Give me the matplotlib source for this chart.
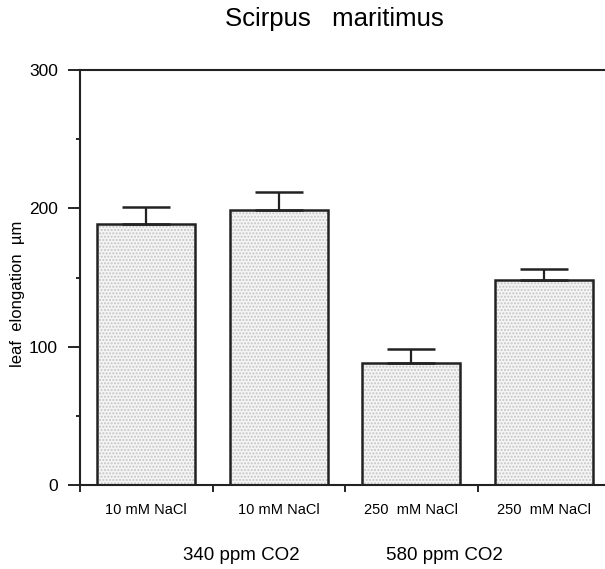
import numpy as np
import matplotlib.pyplot as plt

plt.rcParams['font.family'] = ['Liberation Sans', 'DejaVu Sans']

# data
treatments = ['10 mM NaCl', '10 mM NaCl', '250  mM NaCl', '250  mM NaCl']
elongation = [189, 199, 88, 148]
err = [12, 13, 10, 8]
groups = ['340 ppm CO2', '580 ppm CO2']

fig = plt.figure(figsize=(6.05, 5.69), dpi=100)
ax = fig.add_axes([80 / 605, 84 / 569, 530 / 605, 415 / 569])

x = np.arange(len(elongation)) + 0.5
# stippled fill
ax.bar(x, elongation, width=0.74, color='#f5f5f5', edgecolor='#c4c4c4',
       hatch='.....', linewidth=0, zorder=2)
# outlines + error bars
ax.bar(x, elongation, width=0.74, facecolor='none', edgecolor='#222222',
       linewidth=1.8, zorder=3)
ax.errorbar(x, elongation, yerr=[np.zeros(len(err)), err], fmt='none',
            ecolor='#222222', elinewidth=1.6, capsize=17, capthick=1.8, zorder=3)

ax.set_xlim(0, 4)
ax.set_ylim(0, 300)
ax.set_yticks([0, 100, 200, 300])
ax.set_yticks([50, 150, 250], minor=True)
ax.tick_params(axis='y', which='major', direction='out', length=9, width=1.2,
               labelsize=12.5, pad=7)
ax.tick_params(axis='y', which='minor', direction='out', length=3, width=1.2)

ax.set_xticks([0, 1, 2, 3, 4])
ax.set_xticklabels([])
ax.set_xticks(x, minor=True)
ax.set_xticklabels(treatments, minor=True, fontsize=10.5)
ax.tick_params(axis='x', which='major', direction='out', length=5, width=1.2)
ax.tick_params(axis='x', which='minor', length=0, pad=13)

for s in ['left', 'bottom', 'top']:
    ax.spines[s].set_linewidth(1.5)
    ax.spines[s].set_color('#222222')
ax.spines['right'].set_visible(False)

ax.set_ylabel('leaf  elongation  \u00b5m', fontsize=12)
ax.yaxis.set_label_coords(-0.104, 0.46)

fig.text(334 / 605, 1 - 19 / 569, 'Scirpus   maritimus', ha='center', va='center',
         fontsize=18.5)
fig.text(241 / 605, 1 - 556 / 569, groups[0], ha='center', va='center', fontsize=13.5)
fig.text(444 / 605, 1 - 556 / 569, groups[1], ha='center', va='center', fontsize=13.5)

fig.savefig('out.png', dpi=100)
